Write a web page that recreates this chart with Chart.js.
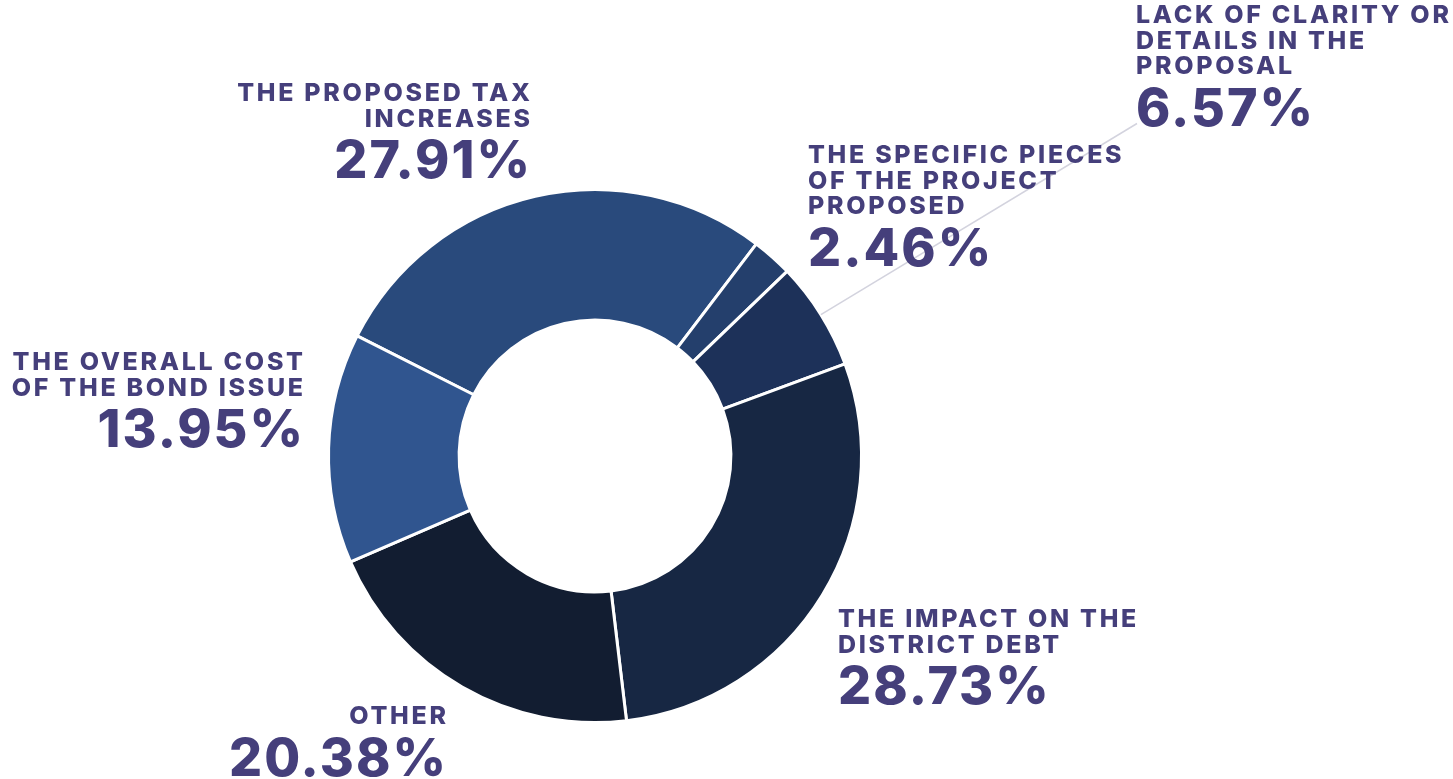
<!DOCTYPE html>
<html>
<head>
<meta charset="utf-8">
<script src="https://cdn.jsdelivr.net/npm/chart.js@4/dist/chart.umd.min.js"></script>
<style>
  html, body { margin: 0; padding: 0; background: #fff; }
  #wrap { width: 1453px; height: 779px; position: relative; }
</style>
</head>
<body>
<div id="wrap"><canvas id="graph"></canvas></div>
<script>
// data
var categories = [
    ['THE PROPOSED TAX', 'INCREASES'],
    ['THE SPECIFIC PIECES', 'OF THE PROJECT', 'PROPOSED'],
    ['LACK OF CLARITY OR', 'DETAILS IN THE', 'PROPOSAL'],
    ['THE IMPACT ON THE', 'DISTRICT DEBT'],
    ['OTHER'],
    ['THE OVERALL COST', 'OF THE BOND ISSUE']
]
var values = [27.91, 2.46, 6.57, 28.73, 20.38, 13.95]
var valueLabels = ['27.91%', '2.46%', '6.57%', '28.73%', '20.38%', '13.95%']

// styling
var palette = ['#294a7c', '#243f6c', '#1d3159', '#172743', '#121d31', '#30558f']
var textColor = '#453f7b'

// where each label block sits (x anchor, alignment, first baseline)
var labelLayout = [
    { x: 530, align: 'right', y: 101 },
    { x: 808, align: 'left', y: 163 },
    { x: 1136, align: 'left', y: 23 },
    { x: 838, align: 'left', y: 627 },
    { x: 446, align: 'right', y: 724 },
    { x: 303, align: 'right', y: 370 }
]
var leaderIndex = 2

function drawSpaced(ctx, text, x, y, align, spacing) {
    ctx.letterSpacing = spacing + 'px'
    // canvas adds the spacing after the last glyph too, undo it for right aligned text
    ctx.fillText(text, align === 'right' ? x + spacing : x, y)
}

var labelPlugin = {
    id: 'outsideLabels',
    afterDraw: function (chart) {
        var ctx = chart.ctx
        var meta = chart.getDatasetMeta(0)
        ctx.save()

        // leader line for the lack of clarity slice
        var arc = meta.data[leaderIndex]
        var p = arc.getProps(['x', 'y', 'startAngle', 'endAngle', 'outerRadius'], true)
        var mid = (p.startAngle + p.endAngle) / 2
        var lay = labelLayout[leaderIndex]
        var lastBase = lay.y + (categories[leaderIndex].length - 1) * 25.5 + 51.5
        ctx.strokeStyle = '#d3d3de'
        ctx.lineWidth = 1.5
        ctx.beginPath()
        ctx.moveTo(p.x + Math.cos(mid) * p.outerRadius, p.y + Math.sin(mid) * p.outerRadius)
        ctx.lineTo(lay.x + 1, lastBase - 2)
        ctx.stroke()

        ctx.fillStyle = textColor
        ctx.textBaseline = 'alphabetic'
        categories.forEach(function (lines, i) {
            var l = labelLayout[i]
            ctx.textAlign = l.align
            ctx.font = '800 25px Inter'
            var base = l.y
            lines.forEach(function (line, j) {
                base = l.y + j * 25.5
                drawSpaced(ctx, line, l.x, base, l.align, 2.7)
            })
            ctx.font = '800 52px Inter'
            drawSpaced(ctx, valueLabels[i], l.x, base + 51.5, l.align, 2.0)
        })
        ctx.restore()
    }
}

var ctx = document.getElementById('graph').getContext('2d')
var chart = new Chart(ctx, {
    type: 'doughnut',
    data: {
        labels: categories.map(function (c) { return c.join(' ') }),
        datasets: [{
            data: values,
            backgroundColor: palette,
            borderColor: '#ffffff',
            borderWidth: 3
        }]
    },
    options: {
        responsive: true,
        maintainAspectRatio: false,
        animation: false,
        rotation: -63.2,
        cutout: '51%',
        layout: { padding: { left: 327, right: 590, top: 188, bottom: 55 } },
        plugins: {
            legend: { display: false },
            tooltip: { enabled: false }
        }
    },
    plugins: [labelPlugin]
})
</script>
</body>
</html>
